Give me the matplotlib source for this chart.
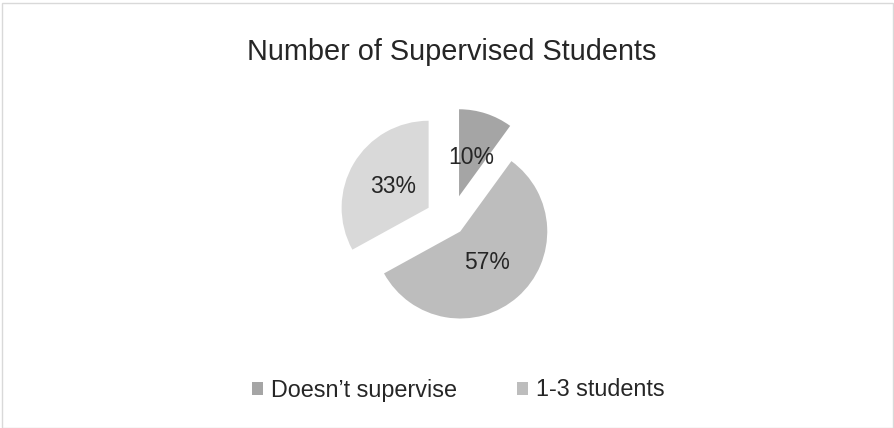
import matplotlib
matplotlib.use("Agg")
import matplotlib.pyplot as plt
from matplotlib.patches import Rectangle

plt.rcParams['font.family'] = ['Liberation Sans', 'DejaVu Sans']

title = "Number of Supervised Students"
categories = ["Doesn\u2019t supervise", "1-3 students", "More than 3 students"]
values = [10, 57, 33]
colors = ["#A5A5A5", "#BDBDBD", "#D9D9D9"]
explode_px = [26, 14, 26]
legend_shown = 2

W, H = 894, 428
fig = plt.figure(figsize=(W / 100, H / 100), dpi=100)
ax = fig.add_axes([0, 0, 1, 1])

# chart frame
fig.patches.append(Rectangle((1.5 / W, 0.5 / H), (W - 3) / W, (H - 3) / H,
                             transform=fig.transFigure, fill=False,
                             edgecolor="#D9D9D9", linewidth=1.0))

wedges, texts, autotexts = ax.pie(
    values, colors=colors, startangle=90, counterclock=False,
    radius=87, center=(451, H - 221), explode=explode_px,
    autopct=lambda p: f"{p:.0f}%", pctdistance=0.47,
    textprops=dict(fontsize=16.5, color="#262626"),
    wedgeprops=dict(linewidth=0), frame=True)
ax.set_xlim(0, W)
ax.set_ylim(0, H)
ax.set_aspect('equal')
ax.axis('off')

fig.text(451.5 / W, 1 - 60 / H, title, ha='center', va='baseline',
         fontsize=20.8, color="#262626")

fig.legend(wedges[:legend_shown], categories[:legend_shown],
           loc='center', bbox_to_anchor=(458.5 / W, 1 - 390 / H),
           ncol=legend_shown, frameon=False, fontsize=16.8,
           handlelength=0.47, handleheight=0.47, handletextpad=0.34,
           columnspacing=2.57, labelcolor="#262626")

fig.savefig("out.png", dpi=100)
